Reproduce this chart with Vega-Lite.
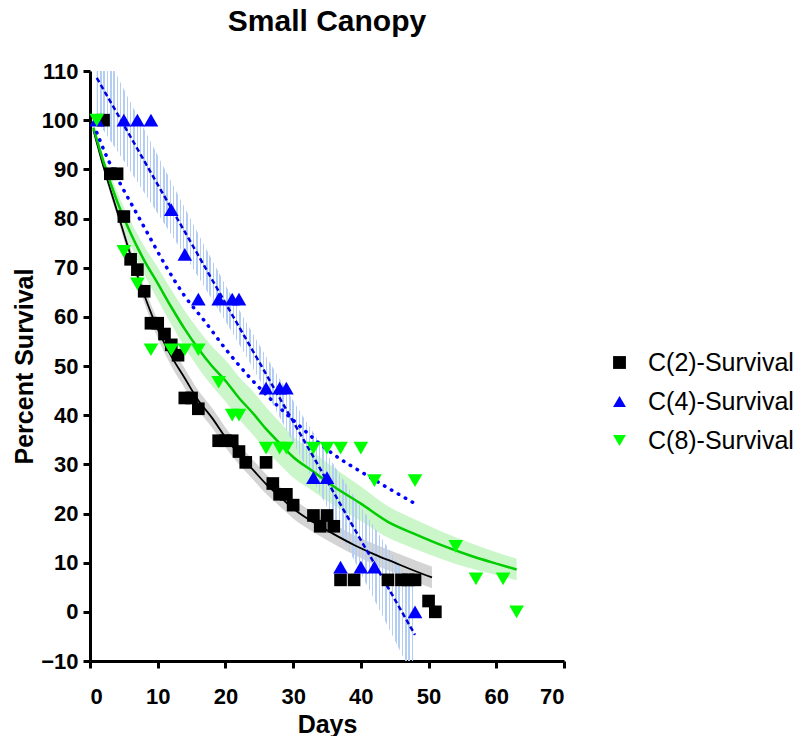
{
  "$schema": "https://vega.github.io/schema/vega-lite/v6.json",
  "width": 474,
  "height": 590,
  "autosize": {"type": "none"},
  "padding": {"left": 90, "top": 71, "right": 237, "bottom": 75},
  "background": "white",
  "title": {
    "text": "Small Canopy",
    "font": "Liberation Sans",
    "fontSize": 30,
    "fontWeight": "bold",
    "color": "black",
    "anchor": "middle",
    "frame": "group",
    "baseline": "alphabetic",
    "offset": -1
  },
  "config": {
    "view": {"stroke": null},
    "axis": {
      "grid": false,
      "domainColor": "black",
      "domainWidth": 3,
      "tickColor": "black",
      "tickWidth": 3,
      "tickSize": 7,
      "labelFont": "Liberation Sans",
      "labelFontWeight": "bold",
      "labelFontSize": 22,
      "labelColor": "black",
      "titleFont": "Liberation Sans",
      "titleFontWeight": "bold",
      "titleFontSize": 25,
      "titleColor": "black"
    }
  },
  "datasets": {
    "survival": [
      {"series": "C(2)-Survival", "day": 2, "pct": 100},
      {"series": "C(2)-Survival", "day": 3, "pct": 89.1},
      {"series": "C(2)-Survival", "day": 4, "pct": 89.1},
      {"series": "C(2)-Survival", "day": 5, "pct": 80.4},
      {"series": "C(2)-Survival", "day": 6, "pct": 71.7},
      {"series": "C(2)-Survival", "day": 7, "pct": 69.6},
      {"series": "C(2)-Survival", "day": 8, "pct": 65.2},
      {"series": "C(2)-Survival", "day": 9, "pct": 58.7},
      {"series": "C(2)-Survival", "day": 10, "pct": 58.7},
      {"series": "C(2)-Survival", "day": 11, "pct": 56.5},
      {"series": "C(2)-Survival", "day": 12, "pct": 54.3},
      {"series": "C(2)-Survival", "day": 13, "pct": 52.2},
      {"series": "C(2)-Survival", "day": 14, "pct": 43.5},
      {"series": "C(2)-Survival", "day": 15, "pct": 43.5},
      {"series": "C(2)-Survival", "day": 16, "pct": 41.3},
      {"series": "C(2)-Survival", "day": 19, "pct": 34.8},
      {"series": "C(2)-Survival", "day": 20, "pct": 34.8},
      {"series": "C(2)-Survival", "day": 21, "pct": 34.8},
      {"series": "C(2)-Survival", "day": 22, "pct": 32.6},
      {"series": "C(2)-Survival", "day": 23, "pct": 30.4},
      {"series": "C(2)-Survival", "day": 26, "pct": 30.4},
      {"series": "C(2)-Survival", "day": 27, "pct": 26.1},
      {"series": "C(2)-Survival", "day": 28, "pct": 23.9},
      {"series": "C(2)-Survival", "day": 29, "pct": 23.9},
      {"series": "C(2)-Survival", "day": 30, "pct": 21.7},
      {"series": "C(2)-Survival", "day": 33, "pct": 19.6},
      {"series": "C(2)-Survival", "day": 34, "pct": 17.4},
      {"series": "C(2)-Survival", "day": 35, "pct": 19.6},
      {"series": "C(2)-Survival", "day": 36, "pct": 17.4},
      {"series": "C(2)-Survival", "day": 37, "pct": 6.5},
      {"series": "C(2)-Survival", "day": 39, "pct": 6.5},
      {"series": "C(2)-Survival", "day": 44, "pct": 6.5},
      {"series": "C(2)-Survival", "day": 46, "pct": 6.5},
      {"series": "C(2)-Survival", "day": 47, "pct": 6.5},
      {"series": "C(2)-Survival", "day": 48, "pct": 6.5},
      {"series": "C(2)-Survival", "day": 50, "pct": 2.2},
      {"series": "C(2)-Survival", "day": 51, "pct": 0},
      {"series": "C(4)-Survival", "day": 1, "pct": 100},
      {"series": "C(4)-Survival", "day": 5, "pct": 100},
      {"series": "C(4)-Survival", "day": 7, "pct": 100},
      {"series": "C(4)-Survival", "day": 9, "pct": 100},
      {"series": "C(4)-Survival", "day": 12, "pct": 81.8},
      {"series": "C(4)-Survival", "day": 14, "pct": 72.7},
      {"series": "C(4)-Survival", "day": 16, "pct": 63.6},
      {"series": "C(4)-Survival", "day": 19, "pct": 63.6},
      {"series": "C(4)-Survival", "day": 21, "pct": 63.6},
      {"series": "C(4)-Survival", "day": 22, "pct": 63.6},
      {"series": "C(4)-Survival", "day": 26, "pct": 45.5},
      {"series": "C(4)-Survival", "day": 28, "pct": 45.5},
      {"series": "C(4)-Survival", "day": 29, "pct": 45.5},
      {"series": "C(4)-Survival", "day": 33, "pct": 27.3},
      {"series": "C(4)-Survival", "day": 35, "pct": 27.3},
      {"series": "C(4)-Survival", "day": 37, "pct": 9.1},
      {"series": "C(4)-Survival", "day": 40, "pct": 9.1},
      {"series": "C(4)-Survival", "day": 42, "pct": 9.1},
      {"series": "C(4)-Survival", "day": 48, "pct": 0},
      {"series": "C(8)-Survival", "day": 1, "pct": 100},
      {"series": "C(8)-Survival", "day": 5, "pct": 73.3},
      {"series": "C(8)-Survival", "day": 7, "pct": 66.7},
      {"series": "C(8)-Survival", "day": 9, "pct": 53.3},
      {"series": "C(8)-Survival", "day": 12, "pct": 53.3},
      {"series": "C(8)-Survival", "day": 14, "pct": 53.3},
      {"series": "C(8)-Survival", "day": 16, "pct": 53.3},
      {"series": "C(8)-Survival", "day": 19, "pct": 46.7},
      {"series": "C(8)-Survival", "day": 21, "pct": 40},
      {"series": "C(8)-Survival", "day": 22, "pct": 40},
      {"series": "C(8)-Survival", "day": 26, "pct": 33.3},
      {"series": "C(8)-Survival", "day": 28, "pct": 33.3},
      {"series": "C(8)-Survival", "day": 29, "pct": 33.3},
      {"series": "C(8)-Survival", "day": 33, "pct": 33.3},
      {"series": "C(8)-Survival", "day": 35, "pct": 33.3},
      {"series": "C(8)-Survival", "day": 37, "pct": 33.3},
      {"series": "C(8)-Survival", "day": 40, "pct": 33.3},
      {"series": "C(8)-Survival", "day": 42, "pct": 26.7},
      {"series": "C(8)-Survival", "day": 48, "pct": 26.7},
      {"series": "C(8)-Survival", "day": 54, "pct": 13.3},
      {"series": "C(8)-Survival", "day": 57, "pct": 6.7},
      {"series": "C(8)-Survival", "day": 61, "pct": 6.7},
      {"series": "C(8)-Survival", "day": 63, "pct": 0}
    ],
    "c2Fit": [
      {"day": 0.5, "pct": 98, "lo": 97.6, "hi": 98.4},
      {"day": 2, "pct": 90.5, "lo": 89.7, "hi": 91.3},
      {"day": 4, "pct": 81.5, "lo": 80.4, "hi": 82.6},
      {"day": 6, "pct": 72.5, "lo": 71.1, "hi": 73.9},
      {"day": 8, "pct": 64.5, "lo": 62.9, "hi": 66.1},
      {"day": 10, "pct": 57.5, "lo": 55.7, "hi": 59.3},
      {"day": 12, "pct": 52, "lo": 50, "hi": 54},
      {"day": 14, "pct": 47.5, "lo": 45.5, "hi": 49.5},
      {"day": 16, "pct": 43, "lo": 41, "hi": 45},
      {"day": 18, "pct": 39.5, "lo": 37.5, "hi": 41.5},
      {"day": 20, "pct": 35.5, "lo": 33.5, "hi": 37.5},
      {"day": 22, "pct": 32, "lo": 30, "hi": 34},
      {"day": 24, "pct": 29, "lo": 27, "hi": 31},
      {"day": 26, "pct": 26, "lo": 24, "hi": 28},
      {"day": 28, "pct": 23.5, "lo": 21.5, "hi": 25.5},
      {"day": 30, "pct": 21, "lo": 19, "hi": 23},
      {"day": 33, "pct": 18.2, "lo": 16.2, "hi": 20.2},
      {"day": 36, "pct": 15.8, "lo": 13.8, "hi": 17.8},
      {"day": 39, "pct": 13.6, "lo": 11.6, "hi": 15.6},
      {"day": 42, "pct": 11.7, "lo": 9.6, "hi": 13.8},
      {"day": 45, "pct": 10, "lo": 7.9, "hi": 12.1},
      {"day": 48, "pct": 8.3, "lo": 6.1, "hi": 10.5},
      {"day": 50.5, "pct": 7, "lo": 4.8, "hi": 9.2}
    ],
    "c8Fit": [
      {"day": 0.5, "pct": 98.5, "lo": 98, "hi": 99},
      {"day": 2, "pct": 91.5, "lo": 90.3, "hi": 92.7},
      {"day": 4, "pct": 83.5, "lo": 81.5, "hi": 85.5},
      {"day": 6, "pct": 77, "lo": 74.5, "hi": 79.5},
      {"day": 8, "pct": 71.5, "lo": 68.6, "hi": 74.4},
      {"day": 10, "pct": 66.8, "lo": 63.5, "hi": 70.1},
      {"day": 12, "pct": 62, "lo": 58.5, "hi": 65.5},
      {"day": 14, "pct": 57.5, "lo": 53.8, "hi": 61.2},
      {"day": 16, "pct": 53.5, "lo": 49.6, "hi": 57.4},
      {"day": 18, "pct": 50, "lo": 46, "hi": 54},
      {"day": 20, "pct": 47, "lo": 42.8, "hi": 51.2},
      {"day": 22, "pct": 43.5, "lo": 39.2, "hi": 47.8},
      {"day": 24, "pct": 40.5, "lo": 36.1, "hi": 44.9},
      {"day": 26, "pct": 37.2, "lo": 32.8, "hi": 41.6},
      {"day": 28, "pct": 34.3, "lo": 30, "hi": 38.6},
      {"day": 30, "pct": 31.5, "lo": 27.3, "hi": 35.7},
      {"day": 33, "pct": 28.5, "lo": 24.5, "hi": 32.5},
      {"day": 36, "pct": 25.5, "lo": 21.7, "hi": 29.3},
      {"day": 40, "pct": 22, "lo": 18.5, "hi": 25.5},
      {"day": 44, "pct": 18.3, "lo": 15.1, "hi": 21.5},
      {"day": 48, "pct": 15.8, "lo": 12.8, "hi": 18.8},
      {"day": 52, "pct": 13.5, "lo": 10.7, "hi": 16.3},
      {"day": 56, "pct": 11.5, "lo": 8.9, "hi": 14.1},
      {"day": 60, "pct": 9.8, "lo": 7.5, "hi": 12.1},
      {"day": 63, "pct": 8.6, "lo": 6.4, "hi": 10.8}
    ],
    "c4Linear": [
      {"day": 1, "pct": 108.6, "lo": 100, "hi": 117.2},
      {"day": 5, "pct": 99, "lo": 91.7, "hi": 106.3},
      {"day": 10, "pct": 86.9, "lo": 81, "hi": 92.8},
      {"day": 15, "pct": 74.9, "lo": 70.3, "hi": 79.5},
      {"day": 20, "pct": 62.8, "lo": 59.1, "hi": 66.5},
      {"day": 24, "pct": 53.2, "lo": 49.7, "hi": 56.7},
      {"day": 28, "pct": 43.5, "lo": 39.6, "hi": 47.4},
      {"day": 33, "pct": 31.5, "lo": 26.6, "hi": 36.4},
      {"day": 38, "pct": 19.4, "lo": 13.2, "hi": 25.6},
      {"day": 43, "pct": 7.4, "lo": -0.3, "hi": 15.1},
      {"day": 48, "pct": -4.7, "lo": -14, "hi": 4.6}
    ],
    "c4Decay": [
      {"day": 1, "pct": 97.5},
      {"day": 2.5, "pct": 92.5},
      {"day": 4.5, "pct": 87},
      {"day": 6.5, "pct": 82},
      {"day": 8.5, "pct": 77},
      {"day": 11, "pct": 70.8},
      {"day": 14, "pct": 64.2},
      {"day": 17, "pct": 59},
      {"day": 20, "pct": 53.5},
      {"day": 23.5, "pct": 47.8},
      {"day": 26.5, "pct": 43.5},
      {"day": 30, "pct": 39},
      {"day": 33, "pct": 35.3},
      {"day": 36, "pct": 32},
      {"day": 40, "pct": 28.5},
      {"day": 44, "pct": 25.2},
      {"day": 48, "pct": 22}
    ]
  },
  "encoding": {
    "x": {
      "field": "day",
      "type": "quantitative",
      "title": "Days",
      "scale": {"domain": [0, 70], "nice": false, "zero": false},
      "axis": {
        "values": [0, 10, 20, 30, 40, 50, 60, 70],
        "labelBaseline": "alphabetic",
        "labelPadding": 35,
        "titleY": 71,
        "titleBaseline": "alphabetic"
      }
    }
  },
  "layer": [
    {
      "data": {"name": "c2Fit"},
      "mark": {"type": "area", "interpolate": "monotone", "color": "#d4d4d4", "opacity": 1, "clip": true},
      "encoding": {
        "y": {"field": "lo", "type": "quantitative", "title": "Percent Survival", "scale": {"domain": [-10, 110], "nice": false, "zero": false}},
        "y2": {"field": "hi"}
      }
    },
    {
      "data": {"name": "c8Fit"},
      "mark": {"type": "area", "interpolate": "monotone", "color": "#c4f5c4", "opacity": 0.9, "clip": true},
      "encoding": {
        "y": {"field": "lo", "type": "quantitative", "title": "Percent Survival"},
        "y2": {"field": "hi"}
      }
    },
    {
      "data": {"name": "c4Linear"},
      "mark": {
        "type": "area",
        "interpolate": "monotone",
        "clip": true,
        "fill": {
          "gradient": "linear",
          "x1": 0, "y1": 0, "x2": 1, "y2": 0,
          "stops": [
            {"offset": 0.0000, "color": "#b3cef2"}, {"offset": 0.0046, "color": "#b3cef2"}, {"offset": 0.0046, "color": "transparent"}, {"offset": 0.0104, "color": "transparent"},
            {"offset": 0.0104, "color": "#b3cef2"}, {"offset": 0.0150, "color": "#b3cef2"}, {"offset": 0.0150, "color": "transparent"}, {"offset": 0.0208, "color": "transparent"},
            {"offset": 0.0208, "color": "#b3cef2"}, {"offset": 0.0254, "color": "#b3cef2"}, {"offset": 0.0254, "color": "transparent"}, {"offset": 0.0313, "color": "transparent"},
            {"offset": 0.0313, "color": "#b3cef2"}, {"offset": 0.0359, "color": "#b3cef2"}, {"offset": 0.0359, "color": "transparent"}, {"offset": 0.0417, "color": "transparent"},
            {"offset": 0.0417, "color": "#b3cef2"}, {"offset": 0.0463, "color": "#b3cef2"}, {"offset": 0.0463, "color": "transparent"}, {"offset": 0.0521, "color": "transparent"},
            {"offset": 0.0521, "color": "#b3cef2"}, {"offset": 0.0567, "color": "#b3cef2"}, {"offset": 0.0567, "color": "transparent"}, {"offset": 0.0625, "color": "transparent"},
            {"offset": 0.0625, "color": "#b3cef2"}, {"offset": 0.0671, "color": "#b3cef2"}, {"offset": 0.0671, "color": "transparent"}, {"offset": 0.0729, "color": "transparent"},
            {"offset": 0.0729, "color": "#b3cef2"}, {"offset": 0.0775, "color": "#b3cef2"}, {"offset": 0.0775, "color": "transparent"}, {"offset": 0.0833, "color": "transparent"},
            {"offset": 0.0833, "color": "#b3cef2"}, {"offset": 0.0879, "color": "#b3cef2"}, {"offset": 0.0879, "color": "transparent"}, {"offset": 0.0938, "color": "transparent"},
            {"offset": 0.0938, "color": "#b3cef2"}, {"offset": 0.0984, "color": "#b3cef2"}, {"offset": 0.0984, "color": "transparent"}, {"offset": 0.1042, "color": "transparent"},
            {"offset": 0.1042, "color": "#b3cef2"}, {"offset": 0.1088, "color": "#b3cef2"}, {"offset": 0.1088, "color": "transparent"}, {"offset": 0.1146, "color": "transparent"},
            {"offset": 0.1146, "color": "#b3cef2"}, {"offset": 0.1192, "color": "#b3cef2"}, {"offset": 0.1192, "color": "transparent"}, {"offset": 0.1250, "color": "transparent"},
            {"offset": 0.1250, "color": "#b3cef2"}, {"offset": 0.1296, "color": "#b3cef2"}, {"offset": 0.1296, "color": "transparent"}, {"offset": 0.1354, "color": "transparent"},
            {"offset": 0.1354, "color": "#b3cef2"}, {"offset": 0.1400, "color": "#b3cef2"}, {"offset": 0.1400, "color": "transparent"}, {"offset": 0.1458, "color": "transparent"},
            {"offset": 0.1458, "color": "#b3cef2"}, {"offset": 0.1504, "color": "#b3cef2"}, {"offset": 0.1504, "color": "transparent"}, {"offset": 0.1563, "color": "transparent"},
            {"offset": 0.1563, "color": "#b3cef2"}, {"offset": 0.1609, "color": "#b3cef2"}, {"offset": 0.1609, "color": "transparent"}, {"offset": 0.1667, "color": "transparent"},
            {"offset": 0.1667, "color": "#b3cef2"}, {"offset": 0.1713, "color": "#b3cef2"}, {"offset": 0.1713, "color": "transparent"}, {"offset": 0.1771, "color": "transparent"},
            {"offset": 0.1771, "color": "#b3cef2"}, {"offset": 0.1817, "color": "#b3cef2"}, {"offset": 0.1817, "color": "transparent"}, {"offset": 0.1875, "color": "transparent"},
            {"offset": 0.1875, "color": "#b3cef2"}, {"offset": 0.1921, "color": "#b3cef2"}, {"offset": 0.1921, "color": "transparent"}, {"offset": 0.1979, "color": "transparent"},
            {"offset": 0.1979, "color": "#b3cef2"}, {"offset": 0.2025, "color": "#b3cef2"}, {"offset": 0.2025, "color": "transparent"}, {"offset": 0.2083, "color": "transparent"},
            {"offset": 0.2083, "color": "#b3cef2"}, {"offset": 0.2129, "color": "#b3cef2"}, {"offset": 0.2129, "color": "transparent"}, {"offset": 0.2188, "color": "transparent"},
            {"offset": 0.2188, "color": "#b3cef2"}, {"offset": 0.2234, "color": "#b3cef2"}, {"offset": 0.2234, "color": "transparent"}, {"offset": 0.2292, "color": "transparent"},
            {"offset": 0.2292, "color": "#b3cef2"}, {"offset": 0.2338, "color": "#b3cef2"}, {"offset": 0.2338, "color": "transparent"}, {"offset": 0.2396, "color": "transparent"},
            {"offset": 0.2396, "color": "#b3cef2"}, {"offset": 0.2442, "color": "#b3cef2"}, {"offset": 0.2442, "color": "transparent"}, {"offset": 0.2500, "color": "transparent"},
            {"offset": 0.2500, "color": "#b3cef2"}, {"offset": 0.2546, "color": "#b3cef2"}, {"offset": 0.2546, "color": "transparent"}, {"offset": 0.2604, "color": "transparent"},
            {"offset": 0.2604, "color": "#b3cef2"}, {"offset": 0.2650, "color": "#b3cef2"}, {"offset": 0.2650, "color": "transparent"}, {"offset": 0.2708, "color": "transparent"},
            {"offset": 0.2708, "color": "#b3cef2"}, {"offset": 0.2754, "color": "#b3cef2"}, {"offset": 0.2754, "color": "transparent"}, {"offset": 0.2813, "color": "transparent"},
            {"offset": 0.2813, "color": "#b3cef2"}, {"offset": 0.2859, "color": "#b3cef2"}, {"offset": 0.2859, "color": "transparent"}, {"offset": 0.2917, "color": "transparent"},
            {"offset": 0.2917, "color": "#b3cef2"}, {"offset": 0.2963, "color": "#b3cef2"}, {"offset": 0.2963, "color": "transparent"}, {"offset": 0.3021, "color": "transparent"},
            {"offset": 0.3021, "color": "#b3cef2"}, {"offset": 0.3067, "color": "#b3cef2"}, {"offset": 0.3067, "color": "transparent"}, {"offset": 0.3125, "color": "transparent"},
            {"offset": 0.3125, "color": "#b3cef2"}, {"offset": 0.3171, "color": "#b3cef2"}, {"offset": 0.3171, "color": "transparent"}, {"offset": 0.3229, "color": "transparent"},
            {"offset": 0.3229, "color": "#b3cef2"}, {"offset": 0.3275, "color": "#b3cef2"}, {"offset": 0.3275, "color": "transparent"}, {"offset": 0.3333, "color": "transparent"},
            {"offset": 0.3333, "color": "#b3cef2"}, {"offset": 0.3379, "color": "#b3cef2"}, {"offset": 0.3379, "color": "transparent"}, {"offset": 0.3438, "color": "transparent"},
            {"offset": 0.3438, "color": "#b3cef2"}, {"offset": 0.3484, "color": "#b3cef2"}, {"offset": 0.3484, "color": "transparent"}, {"offset": 0.3542, "color": "transparent"},
            {"offset": 0.3542, "color": "#b3cef2"}, {"offset": 0.3588, "color": "#b3cef2"}, {"offset": 0.3588, "color": "transparent"}, {"offset": 0.3646, "color": "transparent"},
            {"offset": 0.3646, "color": "#b3cef2"}, {"offset": 0.3692, "color": "#b3cef2"}, {"offset": 0.3692, "color": "transparent"}, {"offset": 0.3750, "color": "transparent"},
            {"offset": 0.3750, "color": "#b3cef2"}, {"offset": 0.3796, "color": "#b3cef2"}, {"offset": 0.3796, "color": "transparent"}, {"offset": 0.3854, "color": "transparent"},
            {"offset": 0.3854, "color": "#b3cef2"}, {"offset": 0.3900, "color": "#b3cef2"}, {"offset": 0.3900, "color": "transparent"}, {"offset": 0.3958, "color": "transparent"},
            {"offset": 0.3958, "color": "#b3cef2"}, {"offset": 0.4004, "color": "#b3cef2"}, {"offset": 0.4004, "color": "transparent"}, {"offset": 0.4063, "color": "transparent"},
            {"offset": 0.4063, "color": "#b3cef2"}, {"offset": 0.4109, "color": "#b3cef2"}, {"offset": 0.4109, "color": "transparent"}, {"offset": 0.4167, "color": "transparent"},
            {"offset": 0.4167, "color": "#b3cef2"}, {"offset": 0.4213, "color": "#b3cef2"}, {"offset": 0.4213, "color": "transparent"}, {"offset": 0.4271, "color": "transparent"},
            {"offset": 0.4271, "color": "#b3cef2"}, {"offset": 0.4317, "color": "#b3cef2"}, {"offset": 0.4317, "color": "transparent"}, {"offset": 0.4375, "color": "transparent"},
            {"offset": 0.4375, "color": "#b3cef2"}, {"offset": 0.4421, "color": "#b3cef2"}, {"offset": 0.4421, "color": "transparent"}, {"offset": 0.4479, "color": "transparent"},
            {"offset": 0.4479, "color": "#b3cef2"}, {"offset": 0.4525, "color": "#b3cef2"}, {"offset": 0.4525, "color": "transparent"}, {"offset": 0.4583, "color": "transparent"},
            {"offset": 0.4583, "color": "#b3cef2"}, {"offset": 0.4629, "color": "#b3cef2"}, {"offset": 0.4629, "color": "transparent"}, {"offset": 0.4688, "color": "transparent"},
            {"offset": 0.4688, "color": "#b3cef2"}, {"offset": 0.4734, "color": "#b3cef2"}, {"offset": 0.4734, "color": "transparent"}, {"offset": 0.4792, "color": "transparent"},
            {"offset": 0.4792, "color": "#b3cef2"}, {"offset": 0.4838, "color": "#b3cef2"}, {"offset": 0.4838, "color": "transparent"}, {"offset": 0.4896, "color": "transparent"},
            {"offset": 0.4896, "color": "#b3cef2"}, {"offset": 0.4942, "color": "#b3cef2"}, {"offset": 0.4942, "color": "transparent"}, {"offset": 0.5000, "color": "transparent"},
            {"offset": 0.5000, "color": "#b3cef2"}, {"offset": 0.5046, "color": "#b3cef2"}, {"offset": 0.5046, "color": "transparent"}, {"offset": 0.5104, "color": "transparent"},
            {"offset": 0.5104, "color": "#b3cef2"}, {"offset": 0.5150, "color": "#b3cef2"}, {"offset": 0.5150, "color": "transparent"}, {"offset": 0.5208, "color": "transparent"},
            {"offset": 0.5208, "color": "#b3cef2"}, {"offset": 0.5254, "color": "#b3cef2"}, {"offset": 0.5254, "color": "transparent"}, {"offset": 0.5313, "color": "transparent"},
            {"offset": 0.5313, "color": "#b3cef2"}, {"offset": 0.5359, "color": "#b3cef2"}, {"offset": 0.5359, "color": "transparent"}, {"offset": 0.5417, "color": "transparent"},
            {"offset": 0.5417, "color": "#b3cef2"}, {"offset": 0.5463, "color": "#b3cef2"}, {"offset": 0.5463, "color": "transparent"}, {"offset": 0.5521, "color": "transparent"},
            {"offset": 0.5521, "color": "#b3cef2"}, {"offset": 0.5567, "color": "#b3cef2"}, {"offset": 0.5567, "color": "transparent"}, {"offset": 0.5625, "color": "transparent"},
            {"offset": 0.5625, "color": "#b3cef2"}, {"offset": 0.5671, "color": "#b3cef2"}, {"offset": 0.5671, "color": "transparent"}, {"offset": 0.5729, "color": "transparent"},
            {"offset": 0.5729, "color": "#b3cef2"}, {"offset": 0.5775, "color": "#b3cef2"}, {"offset": 0.5775, "color": "transparent"}, {"offset": 0.5833, "color": "transparent"},
            {"offset": 0.5833, "color": "#b3cef2"}, {"offset": 0.5879, "color": "#b3cef2"}, {"offset": 0.5879, "color": "transparent"}, {"offset": 0.5938, "color": "transparent"},
            {"offset": 0.5938, "color": "#b3cef2"}, {"offset": 0.5984, "color": "#b3cef2"}, {"offset": 0.5984, "color": "transparent"}, {"offset": 0.6042, "color": "transparent"},
            {"offset": 0.6042, "color": "#b3cef2"}, {"offset": 0.6088, "color": "#b3cef2"}, {"offset": 0.6088, "color": "transparent"}, {"offset": 0.6146, "color": "transparent"},
            {"offset": 0.6146, "color": "#b3cef2"}, {"offset": 0.6192, "color": "#b3cef2"}, {"offset": 0.6192, "color": "transparent"}, {"offset": 0.6250, "color": "transparent"},
            {"offset": 0.6250, "color": "#b3cef2"}, {"offset": 0.6296, "color": "#b3cef2"}, {"offset": 0.6296, "color": "transparent"}, {"offset": 0.6354, "color": "transparent"},
            {"offset": 0.6354, "color": "#b3cef2"}, {"offset": 0.6400, "color": "#b3cef2"}, {"offset": 0.6400, "color": "transparent"}, {"offset": 0.6458, "color": "transparent"},
            {"offset": 0.6458, "color": "#b3cef2"}, {"offset": 0.6504, "color": "#b3cef2"}, {"offset": 0.6504, "color": "transparent"}, {"offset": 0.6563, "color": "transparent"},
            {"offset": 0.6563, "color": "#b3cef2"}, {"offset": 0.6609, "color": "#b3cef2"}, {"offset": 0.6609, "color": "transparent"}, {"offset": 0.6667, "color": "transparent"},
            {"offset": 0.6667, "color": "#b3cef2"}, {"offset": 0.6713, "color": "#b3cef2"}, {"offset": 0.6713, "color": "transparent"}, {"offset": 0.6771, "color": "transparent"},
            {"offset": 0.6771, "color": "#b3cef2"}, {"offset": 0.6817, "color": "#b3cef2"}, {"offset": 0.6817, "color": "transparent"}, {"offset": 0.6875, "color": "transparent"},
            {"offset": 0.6875, "color": "#b3cef2"}, {"offset": 0.6921, "color": "#b3cef2"}, {"offset": 0.6921, "color": "transparent"}, {"offset": 0.6979, "color": "transparent"},
            {"offset": 0.6979, "color": "#b3cef2"}, {"offset": 0.7025, "color": "#b3cef2"}, {"offset": 0.7025, "color": "transparent"}, {"offset": 0.7083, "color": "transparent"},
            {"offset": 0.7083, "color": "#b3cef2"}, {"offset": 0.7129, "color": "#b3cef2"}, {"offset": 0.7129, "color": "transparent"}, {"offset": 0.7188, "color": "transparent"},
            {"offset": 0.7188, "color": "#b3cef2"}, {"offset": 0.7234, "color": "#b3cef2"}, {"offset": 0.7234, "color": "transparent"}, {"offset": 0.7292, "color": "transparent"},
            {"offset": 0.7292, "color": "#b3cef2"}, {"offset": 0.7338, "color": "#b3cef2"}, {"offset": 0.7338, "color": "transparent"}, {"offset": 0.7396, "color": "transparent"},
            {"offset": 0.7396, "color": "#b3cef2"}, {"offset": 0.7442, "color": "#b3cef2"}, {"offset": 0.7442, "color": "transparent"}, {"offset": 0.7500, "color": "transparent"},
            {"offset": 0.7500, "color": "#b3cef2"}, {"offset": 0.7546, "color": "#b3cef2"}, {"offset": 0.7546, "color": "transparent"}, {"offset": 0.7604, "color": "transparent"},
            {"offset": 0.7604, "color": "#b3cef2"}, {"offset": 0.7650, "color": "#b3cef2"}, {"offset": 0.7650, "color": "transparent"}, {"offset": 0.7708, "color": "transparent"},
            {"offset": 0.7708, "color": "#b3cef2"}, {"offset": 0.7754, "color": "#b3cef2"}, {"offset": 0.7754, "color": "transparent"}, {"offset": 0.7813, "color": "transparent"},
            {"offset": 0.7813, "color": "#b3cef2"}, {"offset": 0.7859, "color": "#b3cef2"}, {"offset": 0.7859, "color": "transparent"}, {"offset": 0.7917, "color": "transparent"},
            {"offset": 0.7917, "color": "#b3cef2"}, {"offset": 0.7963, "color": "#b3cef2"}, {"offset": 0.7963, "color": "transparent"}, {"offset": 0.8021, "color": "transparent"},
            {"offset": 0.8021, "color": "#b3cef2"}, {"offset": 0.8067, "color": "#b3cef2"}, {"offset": 0.8067, "color": "transparent"}, {"offset": 0.8125, "color": "transparent"},
            {"offset": 0.8125, "color": "#b3cef2"}, {"offset": 0.8171, "color": "#b3cef2"}, {"offset": 0.8171, "color": "transparent"}, {"offset": 0.8229, "color": "transparent"},
            {"offset": 0.8229, "color": "#b3cef2"}, {"offset": 0.8275, "color": "#b3cef2"}, {"offset": 0.8275, "color": "transparent"}, {"offset": 0.8333, "color": "transparent"},
            {"offset": 0.8333, "color": "#b3cef2"}, {"offset": 0.8379, "color": "#b3cef2"}, {"offset": 0.8379, "color": "transparent"}, {"offset": 0.8438, "color": "transparent"},
            {"offset": 0.8438, "color": "#b3cef2"}, {"offset": 0.8484, "color": "#b3cef2"}, {"offset": 0.8484, "color": "transparent"}, {"offset": 0.8542, "color": "transparent"},
            {"offset": 0.8542, "color": "#b3cef2"}, {"offset": 0.8588, "color": "#b3cef2"}, {"offset": 0.8588, "color": "transparent"}, {"offset": 0.8646, "color": "transparent"},
            {"offset": 0.8646, "color": "#b3cef2"}, {"offset": 0.8692, "color": "#b3cef2"}, {"offset": 0.8692, "color": "transparent"}, {"offset": 0.8750, "color": "transparent"},
            {"offset": 0.8750, "color": "#b3cef2"}, {"offset": 0.8796, "color": "#b3cef2"}, {"offset": 0.8796, "color": "transparent"}, {"offset": 0.8854, "color": "transparent"},
            {"offset": 0.8854, "color": "#b3cef2"}, {"offset": 0.8900, "color": "#b3cef2"}, {"offset": 0.8900, "color": "transparent"}, {"offset": 0.8958, "color": "transparent"},
            {"offset": 0.8958, "color": "#b3cef2"}, {"offset": 0.9004, "color": "#b3cef2"}, {"offset": 0.9004, "color": "transparent"}, {"offset": 0.9063, "color": "transparent"},
            {"offset": 0.9063, "color": "#b3cef2"}, {"offset": 0.9109, "color": "#b3cef2"}, {"offset": 0.9109, "color": "transparent"}, {"offset": 0.9167, "color": "transparent"},
            {"offset": 0.9167, "color": "#b3cef2"}, {"offset": 0.9213, "color": "#b3cef2"}, {"offset": 0.9213, "color": "transparent"}, {"offset": 0.9271, "color": "transparent"},
            {"offset": 0.9271, "color": "#b3cef2"}, {"offset": 0.9317, "color": "#b3cef2"}, {"offset": 0.9317, "color": "transparent"}, {"offset": 0.9375, "color": "transparent"},
            {"offset": 0.9375, "color": "#b3cef2"}, {"offset": 0.9421, "color": "#b3cef2"}, {"offset": 0.9421, "color": "transparent"}, {"offset": 0.9479, "color": "transparent"},
            {"offset": 0.9479, "color": "#b3cef2"}, {"offset": 0.9525, "color": "#b3cef2"}, {"offset": 0.9525, "color": "transparent"}, {"offset": 0.9583, "color": "transparent"},
            {"offset": 0.9583, "color": "#b3cef2"}, {"offset": 0.9629, "color": "#b3cef2"}, {"offset": 0.9629, "color": "transparent"}, {"offset": 0.9688, "color": "transparent"},
            {"offset": 0.9688, "color": "#b3cef2"}, {"offset": 0.9734, "color": "#b3cef2"}, {"offset": 0.9734, "color": "transparent"}, {"offset": 0.9792, "color": "transparent"},
            {"offset": 0.9792, "color": "#b3cef2"}, {"offset": 0.9838, "color": "#b3cef2"}, {"offset": 0.9838, "color": "transparent"}, {"offset": 0.9896, "color": "transparent"},
            {"offset": 0.9896, "color": "#b3cef2"}, {"offset": 0.9942, "color": "#b3cef2"}, {"offset": 0.9942, "color": "transparent"}, {"offset": 1.0000, "color": "transparent"}
          ]
        }
      },
      "encoding": {
        "y": {"field": "lo", "type": "quantitative", "title": "Percent Survival"},
        "y2": {"field": "hi"}
      }
    },
    {
      "data": {"name": "c2Fit"},
      "mark": {"type": "line", "interpolate": "monotone", "color": "black", "strokeWidth": 1.8, "clip": true},
      "encoding": {
        "y": {"field": "pct", "type": "quantitative", "title": "Percent Survival"}
      }
    },
    {
      "data": {"name": "c8Fit"},
      "mark": {"type": "line", "interpolate": "monotone", "color": "#00cc00", "strokeWidth": 2.5, "clip": true},
      "encoding": {
        "y": {"field": "pct", "type": "quantitative", "title": "Percent Survival"}
      }
    },
    {
      "data": {"name": "c4Linear"},
      "mark": {"type": "line", "color": "#0000dd", "strokeWidth": 2.5, "strokeDash": [5, 3], "clip": true},
      "encoding": {
        "y": {"field": "pct", "type": "quantitative", "title": "Percent Survival"}
      }
    },
    {
      "data": {"name": "c4Decay"},
      "mark": {"type": "line", "interpolate": "monotone", "color": "#0000ff", "strokeWidth": 3.5, "strokeCap": "round", "strokeDash": [0.5, 7.5], "clip": true},
      "encoding": {
        "y": {"field": "pct", "type": "quantitative", "title": "Percent Survival"}
      }
    },
    {
      "data": {"name": "survival"},
      "mark": {"type": "point", "filled": true, "opacity": 1, "strokeWidth": 0},
      "encoding": {
        "y": {
          "field": "pct",
          "type": "quantitative",
          "title": "Percent Survival",
          "axis": {
            "values": [-10, 0, 10, 20, 30, 40, 50, 60, 70, 80, 90, 100, 110],
            "labelPadding": 5,
            "titleX": -58,
            "titleY": 295,
            "titleBaseline": "alphabetic"
          }
        },
        "size": {
          "condition": {"test": "datum.series === 'C(2)-Survival'", "value": 160},
          "value": 215
        },
        "color": {
          "field": "series",
          "type": "nominal",
          "scale": {
            "domain": ["C(2)-Survival", "C(4)-Survival", "C(8)-Survival"],
            "range": ["#000000", "#0000ff", "#00ff00"]
          },
          "legend": {
            "title": null,
            "orient": "none",
            "legendX": 517,
            "legendY": 279,
            "padding": 0,
            "labelFont": "Liberation Sans",
            "labelFontSize": 25,
            "labelColor": "black",
            "labelOffset": 16,
            "labelLimit": 300,
            "rowPadding": 13,
            "symbolSize": 165,
            "symbolStrokeWidth": 0,
            "symbolOpacity": 1
          }
        },
        "shape": {
          "field": "series",
          "type": "nominal",
          "scale": {
            "domain": ["C(2)-Survival", "C(4)-Survival", "C(8)-Survival"],
            "range": ["square", "triangle-up", "triangle-down"]
          },
          "legend": {
            "title": null,
            "orient": "none",
            "legendX": 517,
            "legendY": 279,
            "padding": 0,
            "labelFont": "Liberation Sans",
            "labelFontSize": 25,
            "labelColor": "black",
            "labelOffset": 16,
            "labelLimit": 300,
            "rowPadding": 13,
            "symbolSize": 165,
            "symbolStrokeWidth": 0,
            "symbolOpacity": 1
          }
        }
      }
    }
  ]
}
